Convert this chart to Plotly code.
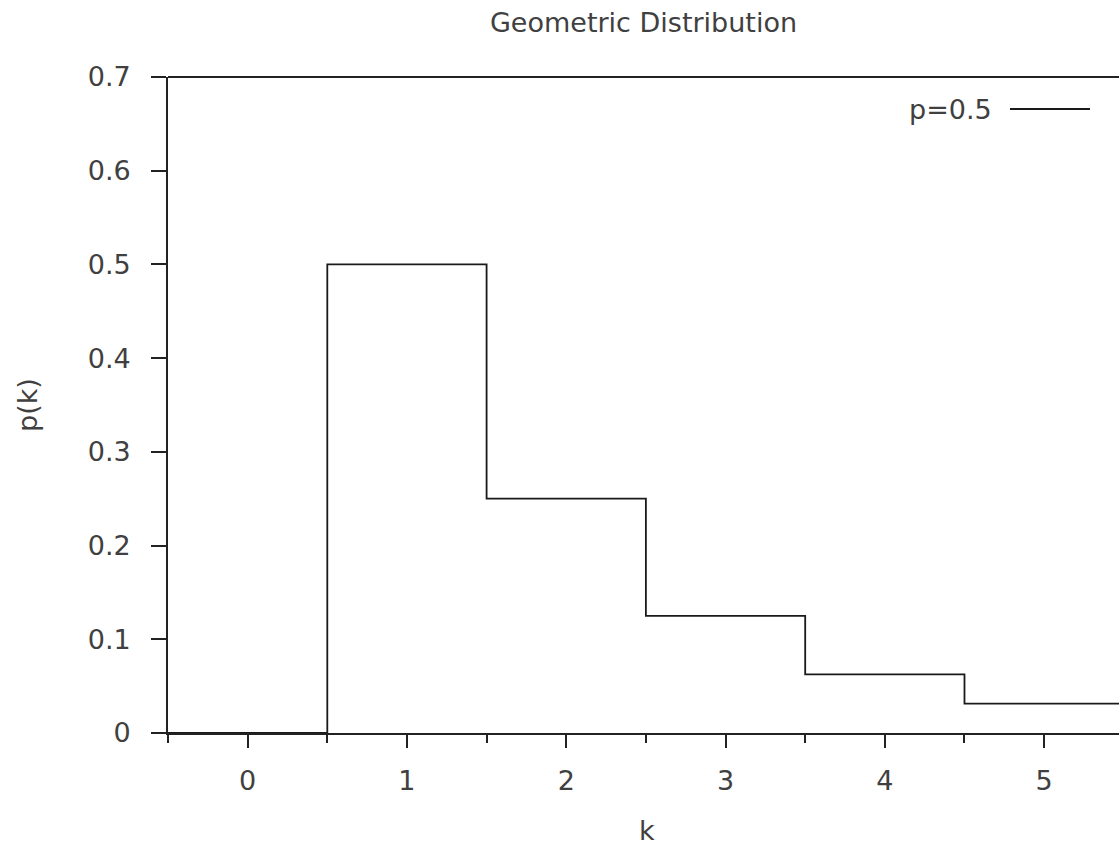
import plotly.graph_objects as go

# Data: geometric distribution, p = 0.5
k_values = [0, 1, 2, 3, 4, 5]
pk_values = [0.0, 0.5, 0.25, 0.125, 0.0625, 0.03125]
series_name = "p=0.5"
x_ticks = [0, 1, 2, 3, 4, 5]
x_minor_ticks = [-0.5, 0.5, 1.5, 2.5, 3.5, 4.5]
y_ticks = [0, 0.1, 0.2, 0.3, 0.4, 0.5, 0.6, 0.7]
y_tick_labels = ["0", "0.1", "0.2", "0.3", "0.4", "0.5", "0.6", "0.7"]

# step edges: each value spans k-0.5 .. k+0.5
xs = [k - 0.5 for k in k_values] + [k_values[-1] + 0.5]
ys = pk_values + [pk_values[-1]]

FONT = "DejaVu Sans"
FS = 27
TXT = "#404040"
AX = "#222222"

W, H = 1119, 848
ML, MT, MB = 168, 77, 115
PW = W - ML
PH = H - MT - MB

fig = go.Figure()
fig.add_trace(go.Scatter(
    x=xs, y=ys, mode="lines", line_shape="hv", name=series_name,
    line=dict(color="#1a1a1a", width=1.8), showlegend=False,
))

fig.update_layout(
    width=W, height=H,
    margin=dict(l=ML, r=0, t=MT, b=MB, pad=0),
    paper_bgcolor="white", plot_bgcolor="white",
    font=dict(family=FONT, size=FS, color=TXT),
    title=dict(text="Geometric Distribution", x=0.5, xref="paper", xanchor="center",
               y=1 - 23 / H, yanchor="middle", font=dict(family=FONT, size=FS, color=TXT)),
    xaxis=dict(
        range=[-0.5, 5.47], tickvals=x_ticks, ticks="outside", ticklen=13, tickwidth=1.6,
        tickcolor=AX, showline=True, linecolor=AX, linewidth=1.8, showgrid=False,
        zeroline=False, tickfont=dict(family=FONT, size=FS, color=TXT),
        ticklabelstandoff=10,
        minor=dict(tickvals=x_minor_ticks, ticks="outside", ticklen=8,
                   tickcolor=AX, tickwidth=1.6, showgrid=False),
    ),
    yaxis=dict(
        range=[0, 0.7], tickvals=y_ticks, ticktext=y_tick_labels,
        ticks="outside", ticklen=15, tickwidth=1.6, tickcolor=AX,
        showline=True, linecolor=AX, linewidth=1.8, showgrid=False, zeroline=False,
        tickfont=dict(family=FONT, size=FS, color=TXT),
        ticklabelstandoff=15,
    ),
)

# axis titles
fig.add_annotation(text="k", xref="paper", yref="paper", x=(647 - ML) / PW, y=0,
                   yshift=-97, xanchor="center", yanchor="middle", showarrow=False,
                   font=dict(family=FONT, size=FS, color=TXT))
fig.add_annotation(text="p(k)", xref="paper", yref="paper", x=0, y=0.5,
                   xshift=-(ML - 27), xanchor="center", yanchor="middle", textangle=-90,
                   showarrow=False, font=dict(family=FONT, size=FS, color=TXT))

# top border
fig.add_shape(type="line", xref="paper", yref="paper", x0=0, x1=1, y0=1, y1=1,
              line=dict(color=AX, width=1.8))

# legend (text left of the line sample, gnuplot style)
leg_y = 1 - (109 - MT) / PH
fig.add_annotation(text=series_name, xref="paper", yref="paper",
                   x=(994 - ML) / PW, y=leg_y, xanchor="right", yanchor="middle",
                   showarrow=False, font=dict(family=FONT, size=FS, color=TXT))
fig.add_shape(type="line", xref="paper", yref="paper",
              x0=(1010 - ML) / PW, x1=(1090 - ML) / PW, y0=leg_y, y1=leg_y,
              line=dict(color="#1a1a1a", width=1.8))

fig.write_html("out.html", config={"displayModeBar": False},
               post_script="document.body.style.margin='0';document.body.style.overflow='hidden';")
